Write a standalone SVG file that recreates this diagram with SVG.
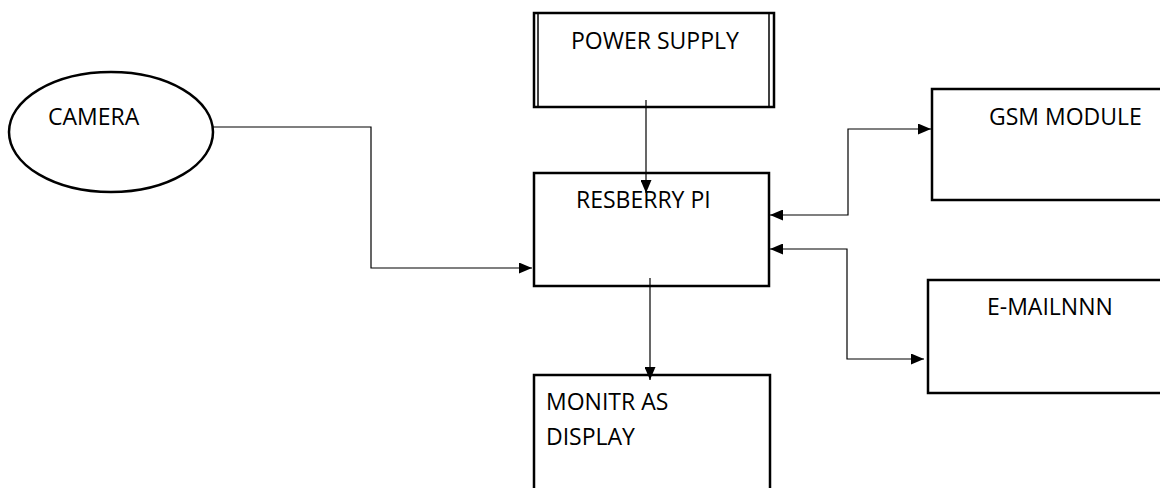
<svg xmlns="http://www.w3.org/2000/svg" width="1160" height="488" viewBox="0 0 1160 488">
<defs>
<style>
.box{fill:#fff;stroke:#000;stroke-width:2.5}
.thin{fill:none;stroke:#000;stroke-width:1.5}
.lbl{font-family:"Open Sans","DejaVu Sans",sans-serif;font-size:23px;fill:#000}
.conn{fill:none;stroke:#000;stroke-width:1.2}
</style>
<marker id="ah" markerWidth="13" markerHeight="11" refX="13" refY="5.5" orient="auto" markerUnits="userSpaceOnUse">
<path d="M0,0 L13,5.5 L0,11 Z" fill="#000"/>
</marker>
<marker id="ahs" markerWidth="13" markerHeight="11" refX="13" refY="5.5" orient="auto-start-reverse" markerUnits="userSpaceOnUse">
<path d="M0,0 L13,5.5 L0,11 Z" fill="#000"/>
</marker>
</defs>
<rect width="1160" height="488" fill="#fff"/>
<g id="power-supply">
<rect class="box" x="534" y="13" width="240" height="94"/>
<line class="thin" x1="538" y1="13" x2="538" y2="107"/>
<line class="thin" x1="769" y1="13" x2="769" y2="107"/>
<text class="lbl" x="571" y="49">POWER SUPPLY</text>
</g>
<g id="camera">
<ellipse class="box" cx="111" cy="132" rx="102" ry="60"/>
<text class="lbl" x="48" y="125">CAMERA</text>
</g>
<g id="resberry-pi">
<rect class="box" x="534" y="173" width="235" height="113"/>
<text class="lbl" x="576" y="208">RESBERRY PI</text>
</g>
<g id="gsm-module">
<rect class="box" x="932" y="89" width="240" height="111"/>
<text class="lbl" x="989" y="125">GSM MODULE</text>
</g>
<g id="email">
<rect class="box" x="928" y="280" width="244" height="113"/>
<text class="lbl" x="987" y="315">E-MAILNNN</text>
</g>
<g id="monitor">
<rect class="box" x="534" y="375" width="236" height="130"/>
<text class="lbl" x="546" y="410">MONITR AS</text>
<text class="lbl" x="546" y="445">DISPLAY</text>
</g>
<g id="connectors">
<path class="conn" d="M213,127 H371 V268 H532" marker-end="url(#ah)"/>
<path class="conn" d="M646,100 V193" marker-end="url(#ah)"/>
<path class="conn" d="M650,278 V380" marker-end="url(#ah)"/>
<path class="conn" d="M770,215 H848 V129 H931" marker-start="url(#ahs)" marker-end="url(#ah)"/>
<path class="conn" d="M770,249 H847 V359 H924" marker-start="url(#ahs)" marker-end="url(#ah)"/>
</g>
</svg>
